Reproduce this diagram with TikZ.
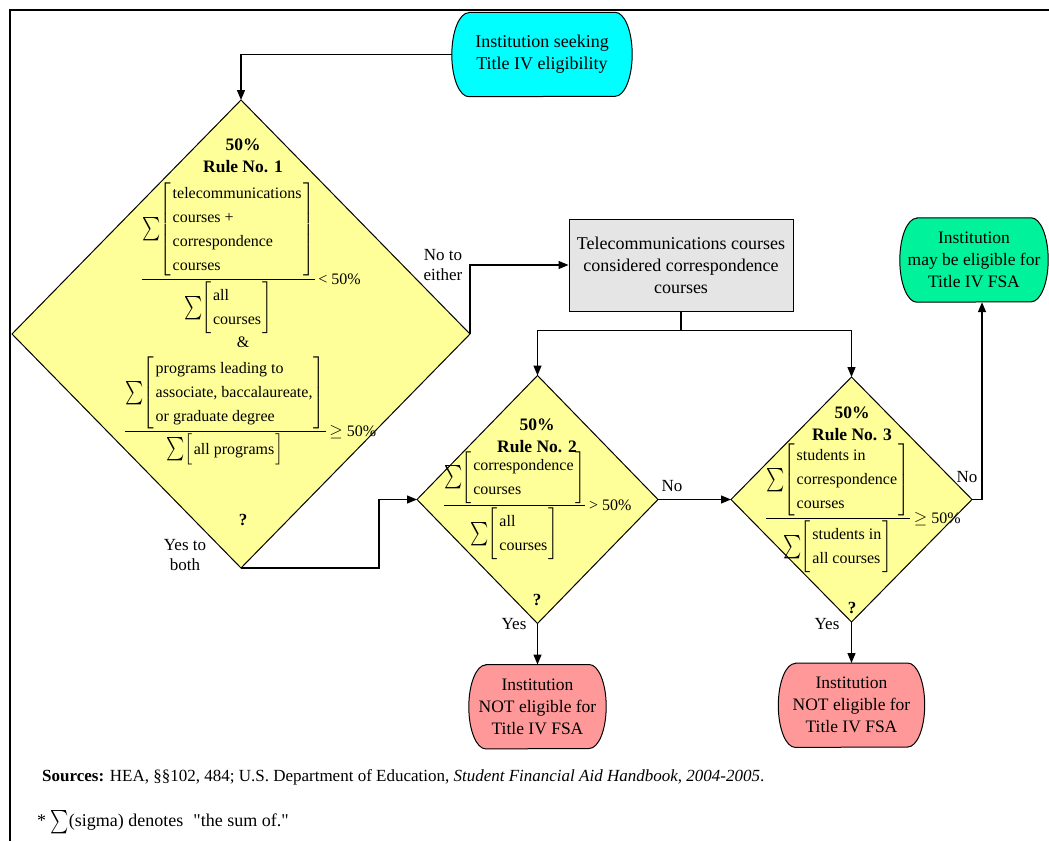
\documentclass[tikz,border=0pt]{standalone}
\usepackage{amsmath}
\usepackage{graphicx}
\usepackage{fontspec}
\setmainfont{Liberation Serif}[Ligatures=TeXOff]
\usetikzlibrary{shapes.geometric, arrows.meta, positioning, backgrounds}

\definecolor{ruleyellow}{RGB}{255,255,153}
\definecolor{fsagreen}{RGB}{0,242,155}
\definecolor{nored}{RGB}{255,153,153}
\definecolor{startcyan}{RGB}{0,255,255}

% tall sigma and bracketed list
\newcommand{\bigsig}{\mathop{\vcenter{\hbox{\scalebox{1}[1.35]{$\textstyle\sum$}}}}}
\newcommand{\sumbox}[1]{\bigsig\mskip-4mu\left[\begin{tabular}{@{\hspace{1.5pt}}l@{\hspace{1.5pt}}}#1\end{tabular}\right]}

\begin{document}
\begin{tikzpicture}[
  x=1pt, y=-1pt,
  terminal/.style={rectangle, align=center, inner sep=0pt, minimum height=84pt,
                   font=\fontsize{17.5}{22}\selectfont},
  startbox/.style={terminal, minimum width=180pt, font=\fontsize{18}{22}\selectfont},
  yesbox/.style={terminal, minimum width=148pt},
  nobox/.style={terminal},
  capsule/.style={line width=1pt, draw=black},
  notebox/.style={rectangle, draw=black, line width=1pt, fill=black!10, align=center,
                  minimum width=224pt, minimum height=92pt, font=\fontsize{18}{22}\selectfont},
  decision/.style={diamond, draw=black, line width=1pt, fill=ruleyellow,
                   inner sep=0pt, outer sep=0pt},
  ruletitle/.style={align=center, inner sep=0pt, font=\fontsize{17.5}{22}\selectfont\bfseries},
  formula/.style={inner sep=0pt, anchor=base west, font=\fontsize{16}{24}\selectfont},
  lbl/.style={align=center, inner sep=0pt, font=\fontsize{17}{20}\selectfont},
  qmark/.style={inner sep=0pt, font=\fontsize{17}{20}\selectfont\bfseries},
  note/.style={inner sep=0pt, anchor=base west, font=\fontsize{17}{22}\selectfont},
  arr/.style={-{Triangle[length=10pt,width=8pt]}, line width=1.3pt},
  link/.style={line width=1.3pt}
]
\useasboundingbox (0,0) rectangle (1049,841);
\draw[line width=2.5pt] (10,841) |- (1049,10);

% start
\node[startbox] (seek) at (542,54.5) {Institution seeking\\Title IV eligibility};

% rule 1
\node[decision, minimum width=458pt, minimum height=468pt] (rule1) at (241,334) {};
\node[ruletitle] (r1title) at (243,156) {50\%\\Rule No. 1};
\node[formula] (r1top) at (141,284)
  {$\dfrac{\sumbox{telecommunications\\courses +\\correspondence\\courses}}{\sumbox{all\\courses}}$\,< 50\%};
\node[lbl, font=\fontsize{16}{20}\selectfont] (r1and) at (243,342) {\&};
\node[formula] (r1bot) at (124,436)
  {$\dfrac{\sumbox{programs leading to\\associate, baccalaureate,\\or graduate degree}}{\sumbox{all programs}}$\,$\geq$ 50\%};
\node[qmark] (r1q) at (243,520) {?};

% telecom note
\node[notebox] (tele) at (681,265) {Telecommunications courses\\considered correspondence\\courses};

% rule 2
\node[decision, minimum width=241pt, minimum height=248pt] (rule2) at (537.5,499.5) {};
\node[ruletitle] (r2title) at (537,436) {50\%\\Rule No. 2};
\node[formula] (r2frac) at (443,510)
  {$\dfrac{\sumbox{correspondence\\courses}}{\sumbox{all\\courses}}$\,> 50\%};
\node[qmark] (r2q) at (537,600) {?};

% rule 3
\node[decision, minimum width=241pt, minimum height=245pt] (rule3) at (851.5,499.5) {};
\node[ruletitle] (r3title) at (852,424) {50\%\\Rule No. 3};
\node[formula] (r3frac) at (765,523)
  {$\dfrac{\sumbox{students in\\correspondence\\courses}}{\sumbox{students in\\all courses}}$\,$\geq$ 50\%};
\node[qmark] (r3q) at (852,608) {?};

% outcomes
\node[yesbox] (fsa) at (974,260) {Institution\\may be eligible for\\Title IV FSA};
\node[nobox, minimum width=137pt, below=41pt of rule2] (not2) {Institution\\NOT eligible for\\Title IV FSA};
\node[nobox, minimum width=146pt, below=41pt of rule3] (not3) {Institution\\NOT eligible for\\Title IV FSA};

% capsule outlines behind the terminal texts
\begin{scope}[on background layer]
  \foreach \n/\c in {seek/startcyan, fsa/fsagreen, not2/nored, not3/nored}
    \draw[capsule, fill=\c] ([xshift=17pt]\n.north west) -- ([xshift=-17pt]\n.north east)
      arc[start angle=90, end angle=-90, x radius=17pt, y radius=42pt]
      -- ([xshift=17pt]\n.south west)
      arc[start angle=270, end angle=90, x radius=17pt, y radius=42pt] -- cycle;
\end{scope}

% labels
\node[lbl] (noeither) at (443,265) {No to\\either};
\node[lbl] (yesboth) at (185,555) {Yes to\\both};
\node[lbl] (no2) at (672,486) {No};
\node[lbl] (yes2) at (514,624) {Yes};
\node[lbl] (no3) at (967,477) {No};
\node[lbl] (yes3) at (827,624) {Yes};

% connectors
\coordinate (split) at ([yshift=-19pt]tele.south);
\draw[arr] (seek.west) -| (rule1.north);
\draw[arr] (rule1.east) |- (tele.west);
\draw[link] (tele.south) -- (split);
\draw[arr] (split) -| (rule2.north);
\draw[arr] (split) -| (rule3.north);
\draw[arr] (rule1.south) -| ([xshift=-38pt]rule2.west) -- (rule2.west);
\draw[arr] (rule2.east) -- (rule3.west);
\draw[arr] (rule3.east) -| ([xshift=8pt]fsa.south);
\draw[arr] (rule2.south) -- (not2.north);
\draw[arr] (rule3.south) -- (not3.north);

% sources
\node[note] (src) at (42,781) {\textbf{Sources:} HEA, §§102, 484; U.S. Department of Education, \textit{Student Financial Aid Handbook, 2004-2005}.};
\node[note, font=\fontsize{18}{22}\selectfont] (sigma) at (37,826)
  {* $\bigsig$(sigma) denotes\hspace{10pt}"the sum of."};
\end{tikzpicture}
\end{document}
